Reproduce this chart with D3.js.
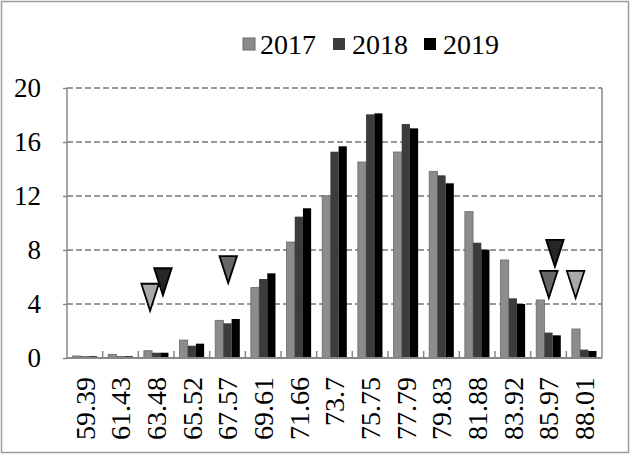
<!DOCTYPE html>
<html>
<head>
<meta charset="utf-8">
<script src="https://cdn.jsdelivr.net/npm/d3@7"></script>
<style>
  body { margin: 0; background: #fff; }
  text { font-family: "Liberation Serif", "Times New Roman", serif; fill: #000; }
</style>
</head>
<body>
<div id="chart"></div>
<script>
var width = 630;
var height = 456;

// data
var bins = ["59.39", "61.43", "63.48", "65.52", "67.57", "69.61", "71.66", "73.7",
            "75.75", "77.79", "79.83", "81.88", "83.92", "85.97", "88.01"];
var years = ["2017", "2018", "2019"];
var v2017 = [0.15, 0.27, 0.54, 1.33, 2.79, 5.23, 8.59, 12.02, 14.52, 15.26, 13.83, 10.84, 7.26, 4.3, 2.15];
var v2018 = [0.13, 0.13, 0.39, 0.91, 2.57, 5.85, 10.47, 15.28, 18.05, 17.33, 13.53, 8.54, 4.42, 1.88, 0.62];
var v2019 = [0.13, 0.13, 0.39, 1.06, 2.89, 6.27, 11.09, 15.68, 18.12, 17.01, 12.94, 8.02, 4.0, 1.68, 0.52];
var yTicks = [0, 4, 8, 12, 16, 20];
// marker triangles: year, position in bin units, value at the tip
var markYear = ["2017", "2019", "2018", "2019", "2018", "2017"];
var markPos = [1.83, 2.19, 4.02, 13.18, 13.01, 13.76];
var markVal = [3.5, 4.65, 5.55, 6.75, 4.45, 4.45];

var barColor = { "2017": "#8c8c8c", "2018": "#3c3c3c", "2019": "#000000" };
var markColor = { "2017": "#a9a9a9", "2018": "#676767", "2019": "#262626" };

var margin = { left: 67, right: 28, top: 88, bottom: 98 };

var svg = d3.select("#chart")
  .append("svg")
  .attr("width", width)
  .attr("height", height);

// outer frame
svg.append("rect")
  .attr("x", 1.5).attr("y", 1.5)
  .attr("width", width - 3).attr("height", height - 5)
  .attr("fill", "none")
  .attr("stroke", "#9a9a9a")
  .attr("stroke-width", 1.5);

var x0 = d3.scaleBand()
  .domain(bins)
  .range([margin.left, width - margin.right])
  .paddingInner(0.31)
  .paddingOuter(0.155);

var x1 = d3.scaleBand()
  .domain(years)
  .range([0, x0.bandwidth()]);

var y = d3.scaleLinear()
  .domain([0, 20])
  .range([height - margin.bottom, margin.top]);

var xPos = d3.scaleLinear()
  .domain([0, bins.length - 1])
  .range([x0(bins[0]) + x0.bandwidth() / 2, x0(bins[bins.length - 1]) + x0.bandwidth() / 2]);

// grid
svg.append("g")
  .selectAll("line")
  .data(yTicks.slice(1))
  .enter().append("line")
    .attr("x1", margin.left)
    .attr("x2", width - margin.right)
    .attr("y1", function(d) { return y(d); })
    .attr("y2", function(d) { return y(d); })
    .attr("stroke", "#777")
    .attr("stroke-width", 1.5)
    .attr("stroke-dasharray", "6,3");

// side borders
svg.append("line")
  .attr("x1", margin.left).attr("x2", margin.left)
  .attr("y1", y(20)).attr("y2", y(0))
  .attr("stroke", "#888").attr("stroke-width", 1.5);
svg.append("line")
  .attr("x1", width - margin.right).attr("x2", width - margin.right)
  .attr("y1", y(20)).attr("y2", y(0))
  .attr("stroke", "#888").attr("stroke-width", 1.5);

// bars
var rows = bins.map(function(b, i) {
  return { bin: b, vals: [
    { year: "2017", v: v2017[i] },
    { year: "2018", v: v2018[i] },
    { year: "2019", v: v2019[i] }
  ] };
});

svg.append("g")
  .selectAll("g")
  .data(rows)
  .enter().append("g")
    .attr("transform", function(d) { return "translate(" + x0(d.bin) + ",0)"; })
  .selectAll("rect")
  .data(function(d) { return d.vals; })
  .enter().append("rect")
    .attr("x", function(d) { return x1(d.year); })
    .attr("y", function(d) { return y(d.v); })
    .attr("width", x1.bandwidth())
    .attr("height", function(d) { return y(0) - y(d.v); })
    .attr("fill", function(d) { return barColor[d.year]; })
    .attr("stroke", function(d) { return d.year == "2017" ? "#6a6a6a" : "none"; })
    .attr("stroke-width", 0.8);

// x axis: ticks between bins, pointing inward
var xAxis = svg.append("g")
  .attr("transform", "translate(0," + y(0) + ")");
xAxis.selectAll("line.tick")
  .data(bins.slice(1))
  .enter().append("line")
    .attr("class", "tick")
    .attr("x1", function(d) { return x0(d) - x0.step() * x0.paddingInner() / 2; })
    .attr("x2", function(d) { return x0(d) - x0.step() * x0.paddingInner() / 2; })
    .attr("y1", 0).attr("y2", -7)
    .attr("stroke", "#888").attr("stroke-width", 1.5);
xAxis.append("line")
  .attr("x1", margin.left).attr("x2", width - margin.right)
  .attr("stroke", "#888").attr("stroke-width", 2);
xAxis.selectAll("text")
  .data(bins)
  .enter().append("text")
    .attr("transform", function(d) {
      return "translate(" + (x0(d) + x0.bandwidth() / 2) + ",19) rotate(-90)";
    })
    .attr("dy", "0.35em")
    .attr("text-anchor", "end")
    .attr("font-size", 28)
    .text(function(d) { return d; });

// y axis
var yAxis = svg.append("g")
  .attr("transform", "translate(" + margin.left + ",0)")
  .call(d3.axisLeft(y).tickValues(yTicks).tickSize(4).tickPadding(22));
yAxis.select(".domain").remove();
yAxis.selectAll(".tick line").attr("stroke", "#888").attr("stroke-width", 1.5);
yAxis.selectAll(".tick text")
  .attr("font-size", 27)
  .attr("font-family", "Liberation Serif")
  .attr("fill", "#000");

// triangles
var tw = 17.5, th = 27;
svg.append("g")
  .selectAll("path")
  .data(markYear.map(function(yr, i) { return { year: yr, pos: markPos[i], v: markVal[i] }; }))
  .enter().append("path")
    .attr("d", function(d) {
      var cx = xPos(d.pos), ty = y(d.v);
      return "M" + (cx - tw / 2) + "," + (ty - th) + "L" + (cx + tw / 2) + "," + (ty - th) + "L" + cx + "," + ty + "Z";
    })
    .attr("fill", function(d) { return markColor[d.year]; })
    .attr("stroke", "#000")
    .attr("stroke-width", 1.8)
    .attr("stroke-linejoin", "miter");

// legend
var legX = [243, 333, 424];
var legend = svg.append("g");
legend.selectAll("rect")
  .data(years)
  .enter().append("rect")
    .attr("x", function(d, i) { return legX[i]; })
    .attr("y", 38)
    .attr("width", 12).attr("height", 12)
    .attr("fill", function(d) { return barColor[d]; })
    .attr("stroke", function(d) { return d == "2017" ? "#6a6a6a" : "none"; });
legend.selectAll("text")
  .data(years)
  .enter().append("text")
    .attr("x", function(d, i) { return legX[i] + (i == 0 ? 17 : 19); })
    .attr("y", 54)
    .attr("font-size", 28)
    .text(function(d) { return d; });
</script>
</body>
</html>
